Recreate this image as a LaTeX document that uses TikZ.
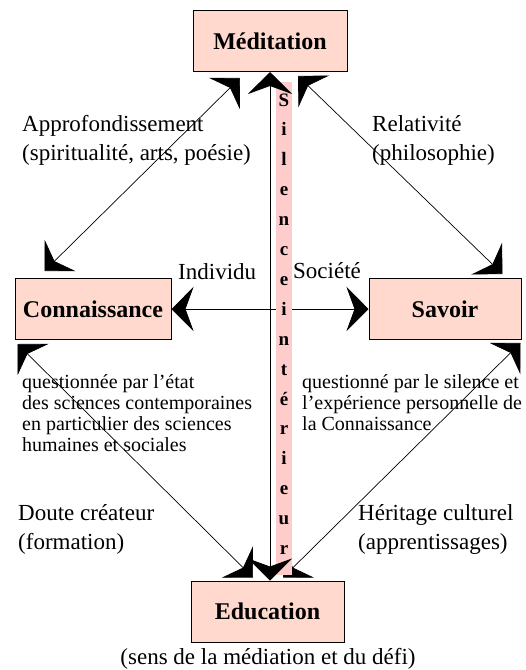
\documentclass[tikz,border=0pt]{standalone}
\usepackage{fontspec}
\setmainfont{Liberation Serif}
\usetikzlibrary{arrows.meta,calc}
\definecolor{peach}{RGB}{255,217,205}
\definecolor{silence}{RGB}{255,204,204}
\tikzset{
  pole/.style={draw,line width=1pt,fill=peach,minimum width=#1,minimum height=61pt,
    inner sep=0pt,font=\fontsize{24}{28}\selectfont\bfseries},
  fleche/.style={line width=0.7pt,
    {Stealth[length=22pt,width=44pt,inset=8pt]}-{Stealth[length=22pt,width=44pt,inset=8pt]}},
  grand/.style={anchor=base west,inner sep=0pt,align=left,font=\fontsize{23}{29}\selectfont},
  petit/.style={anchor=base west,inner sep=0pt,align=left,font=\fontsize{20}{21}\selectfont},
  lettre/.style={anchor=base,inner sep=0pt,font=\fontsize{19}{19}\selectfont\bfseries}
}

\begin{document}
\begin{tikzpicture}[x=1pt,y=-1pt]
  \useasboundingbox (0,0) rectangle (526,670);

  % the four poles
  \node[pole=154pt] (med) at (270,41) {Méditation};
  \node[pole=156pt] (con) at (93,309) {Connaissance};
  \node[pole=152pt] (sav) at (445,309) {Savoir};
  \node[pole=153pt] (edu) at (267.5,611.5) {Education};

  % free ends of the diagonals
  \coordinate (ml) at ($(med.south)+(-30,6)$);
  \coordinate (mr) at ($(med.south)+(28,4)$);
  \coordinate (cn) at ($(con.north west)+(30,-7)$);
  \coordinate (cs) at ($(con.south west)+(3,4)$);
  \coordinate (sn) at ($(sav.north east)+(-19,-4)$);
  \coordinate (ss) at ($(sav.south east)+(-1,3)$);
  \coordinate (el) at ($(edu.north)+(-14.5,-3)$);
  \coordinate (er) at ($(edu.north)+(15.5,-3)$);

  \draw[fleche] (cn) -- (ml);
  \draw[fleche] (mr) -- (sn);
  \draw[fleche] (cs) -- (el);
  \draw[fleche] (ss) -- (er);
  \draw[fleche] (con.east) -- (sav.west);

  % silence interieur
  \fill[silence] (276,82) rectangle (292,575);
  \draw[fleche] (med.south) -- (med.south |- edu.north);
  \foreach \ch [count=\k from 0] in {S,i,l,e,n,c,e,i,n,t,é,r,i,e,u,r}
    \node[lettre] (s\k) at (284,106+29.9*\k) {\ch};

  % labels (placed by the baseline of their last line)
  \node[grand] (appro) at (22,160) {Approfondissement\\(spiritualité, arts, poésie)};
  \node[grand] (relat) at (372,160) {Relativité\\(philosophie)};
  \node[grand] (indiv) at (178,279) {Individu};
  \node[grand] (socie) at (293,278) {Société};
  \node[petit] (qcon) at (22,451) {questionnée par l'état\\des sciences contemporaines\\en particulier des sciences\\humaines et sociales};
  \node[petit] (qsav) at (302,430) {questionné par le silence et\\l'expérience personnelle de\\la Connaissance};
  \node[grand] (doute) at (18,549) {Doute créateur\\(formation)};
  \node[grand] (herit) at (358,549) {Héritage culturel\\(apprentissages)};
  \node[grand,anchor=base] (sens) at (268,664) {(sens de la médiation et du défi)};
\end{tikzpicture}
\end{document}
